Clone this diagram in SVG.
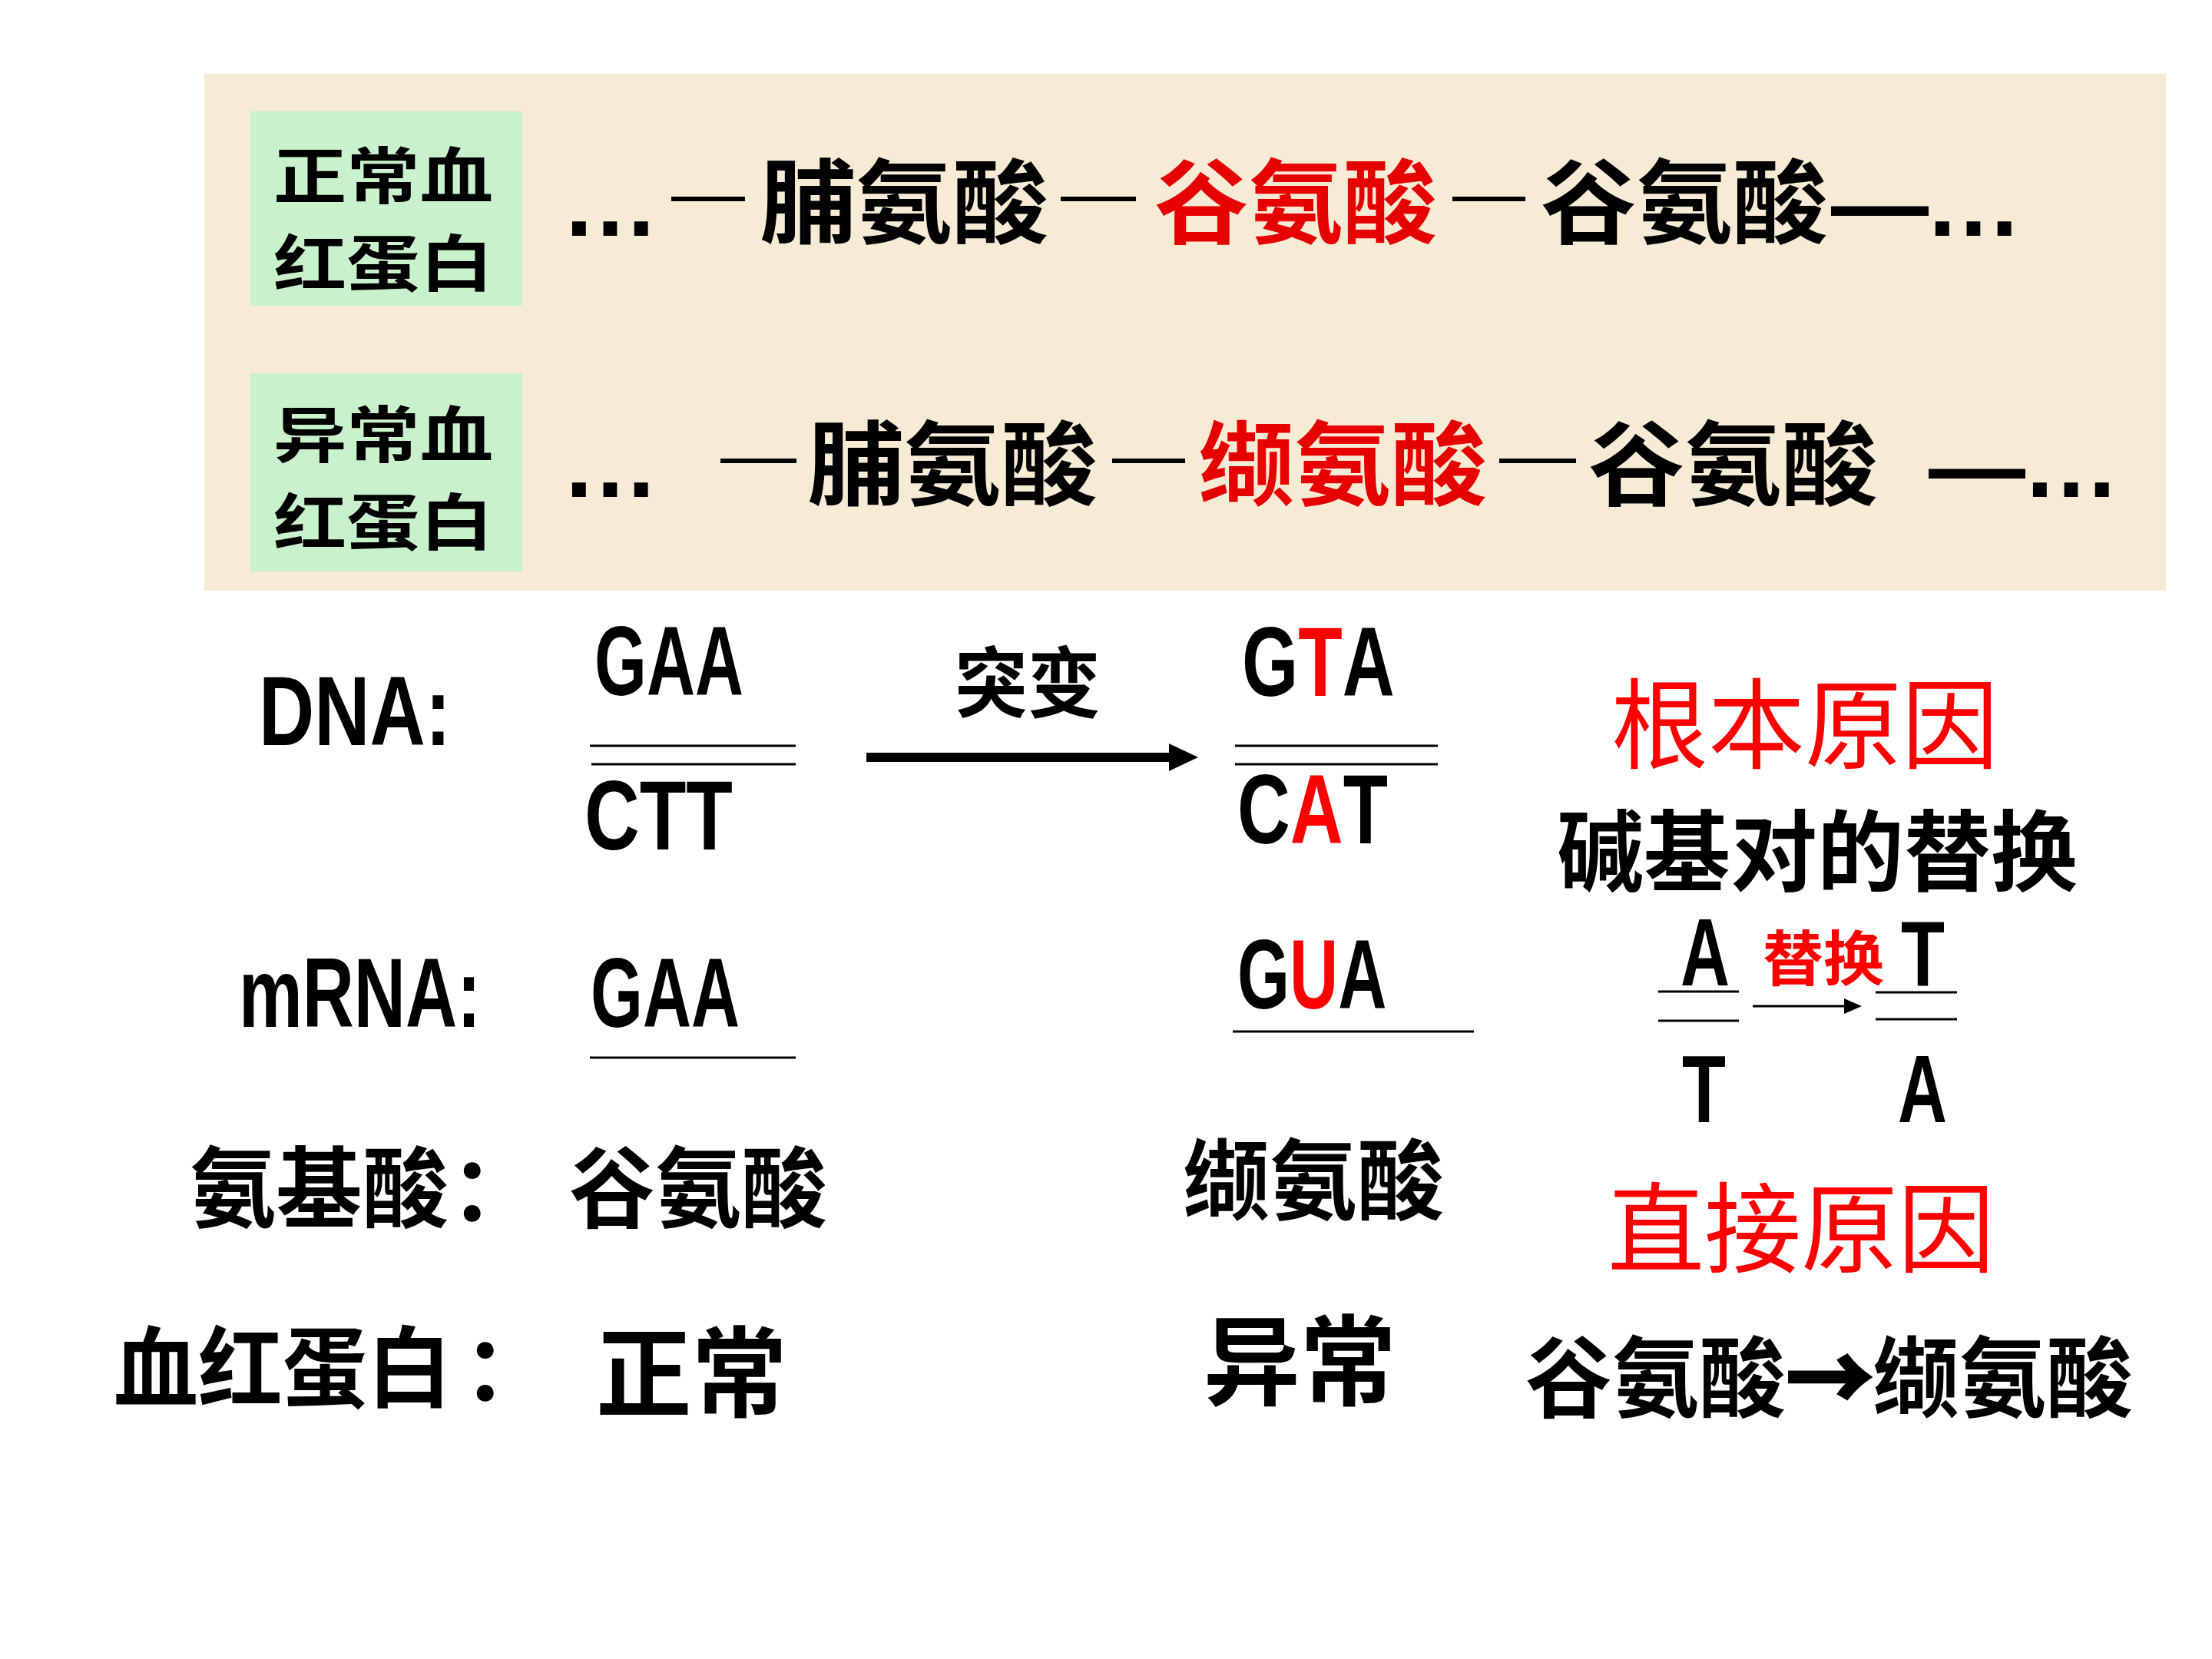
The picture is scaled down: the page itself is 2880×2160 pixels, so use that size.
<svg xmlns="http://www.w3.org/2000/svg" width="2880" height="2160" viewBox="0 0 2880 2160">
<defs>
<style>
.cjk{font-family:"Noto Sans CJK SC","Noto Sans CJK TC",sans-serif;font-weight:700;fill:#000}
.reg{font-weight:400}
.lat{font-family:"Liberation Sans",Arial,sans-serif;font-weight:700;fill:#000}
.latr{font-family:"Liberation Sans",Arial,sans-serif;font-weight:400;fill:#000}
.red{fill:#ff0000}
.pred{fill:#e60000}
.strand{stroke:#000;stroke-width:3;fill:none}
.heavy{stroke:#000;stroke-width:5}
</style>
</defs>
<rect x="0" y="0" width="2880" height="2160" fill="#ffffff"/>

<g id="panel">
<rect x="266" y="96" width="2554" height="673" fill="#f7ebd6"/>
</g>

<g id="label-normal">
<rect x="326" y="145" width="354" height="253" fill="#c9f1cb"/>
<text class="cjk" x="356" y="258" font-size="80" textLength="286" lengthAdjust="spacingAndGlyphs">正常血</text>
<text class="cjk" x="356" y="372" font-size="80" textLength="286" lengthAdjust="spacingAndGlyphs">红蛋白</text>
</g>

<g id="label-abnormal">
<rect x="326" y="486" width="354" height="258" fill="#c9f1cb"/>
<text class="cjk" x="356" y="595" font-size="80" textLength="286" lengthAdjust="spacingAndGlyphs">异常血</text>
<text class="cjk" x="356" y="709" font-size="80" textLength="286" lengthAdjust="spacingAndGlyphs">红蛋白</text>
</g>

<g id="chain-normal">
<text class="lat" x="731" y="307" font-size="127">…</text>
<text class="latr" x="874" y="282" font-size="90" textLength="96" lengthAdjust="spacingAndGlyphs">—</text>
<text class="cjk" x="989" y="308" font-size="120" textLength="376" lengthAdjust="spacingAndGlyphs">脯氨酸</text>
<text class="latr" x="1381" y="282" font-size="90" textLength="98" lengthAdjust="spacingAndGlyphs">—</text>
<text class="cjk pred" x="1503" y="308" font-size="120" textLength="368" lengthAdjust="spacingAndGlyphs">谷氨酸</text>
<text class="latr" x="1891" y="282" font-size="90" textLength="95" lengthAdjust="spacingAndGlyphs">—</text>
<text class="cjk" x="2006" y="308" font-size="120" textLength="374" lengthAdjust="spacingAndGlyphs">谷氨酸</text>
<text class="lat" x="2384" y="309" font-size="127" textLength="127" lengthAdjust="spacingAndGlyphs">—</text>
<text class="lat" x="2506" y="307" font-size="127">…</text>
</g>

<g id="chain-abnormal">
<text class="lat" x="731" y="647" font-size="127">…</text>
<text class="latr" x="938" y="623" font-size="90" textLength="99" lengthAdjust="spacingAndGlyphs">—</text>
<text class="cjk" x="1051" y="649" font-size="120" textLength="378" lengthAdjust="spacingAndGlyphs">脯氨酸</text>
<text class="latr" x="1448" y="623" font-size="90" textLength="95" lengthAdjust="spacingAndGlyphs">—</text>
<text class="cjk pred" x="1560" y="649" font-size="120" textLength="376" lengthAdjust="spacingAndGlyphs">缬氨酸</text>
<text class="latr" x="1952" y="623" font-size="90" textLength="100" lengthAdjust="spacingAndGlyphs">—</text>
<text class="cjk" x="2068" y="649" font-size="120" textLength="377" lengthAdjust="spacingAndGlyphs">谷氨酸</text>
<text class="lat" x="2511" y="651" font-size="127" textLength="126" lengthAdjust="spacingAndGlyphs">—</text>
<text class="lat" x="2633" y="647" font-size="127">…</text>
</g>

<g id="row-labels">
<text class="lat" x="337" y="970" font-size="128" textLength="250" lengthAdjust="spacingAndGlyphs">DNA:</text>
<text class="lat" x="311" y="1337" font-size="128" textLength="315" lengthAdjust="spacingAndGlyphs">mRNA:</text>
<text class="cjk" x="247" y="1589" font-size="115" textLength="337" lengthAdjust="spacingAndGlyphs">氨基酸</text>
<text class="cjk" x="586" y="1589" font-size="115">：</text>
<text class="cjk" x="148" y="1823" font-size="115" textLength="440" lengthAdjust="spacingAndGlyphs">血红蛋白</text>
<text class="cjk" x="603" y="1823" font-size="115">：</text>
</g>

<g id="normal-column">
<text class="lat" x="774" y="905" font-size="128" textLength="194" lengthAdjust="spacingAndGlyphs">GAA</text>
<line class="strand" x1="768" y1="971" x2="1036" y2="971"/>
<line class="strand" x1="770" y1="995" x2="1036" y2="995"/>
<text class="lat" x="761" y="1106" font-size="128" textLength="193" lengthAdjust="spacingAndGlyphs">CTT</text>
<text class="lat" x="769" y="1337" font-size="128" textLength="194" lengthAdjust="spacingAndGlyphs">GAA</text>
<line class="strand" x1="768" y1="1377" x2="1036" y2="1377"/>
<text class="cjk" x="741" y="1589" font-size="115" textLength="336" lengthAdjust="spacingAndGlyphs">谷氨酸</text>
<text class="cjk" x="776" y="1835" font-size="128" textLength="249" lengthAdjust="spacingAndGlyphs">正常</text>
</g>

<g id="mutation-label">
<text class="cjk" x="1243" y="926" font-size="100" textLength="190" lengthAdjust="spacingAndGlyphs">突变</text>
</g>

<g id="mutant-column">
<text class="lat" transform="translate(1617,906) scale(0.735,1)" x="0" y="0" font-size="128">G<tspan class="red">T</tspan>A</text>
<line class="strand" x1="1608" y1="971" x2="1872" y2="971"/>
<line class="strand" x1="1608" y1="995" x2="1872" y2="995"/>
<text class="lat" transform="translate(1611,1098) scale(0.745,1)" x="0" y="0" font-size="128">C<tspan class="red">A</tspan>T</text>
<text class="lat" transform="translate(1611,1313) scale(0.683,1)" x="0" y="0" font-size="128">G<tspan class="red">U</tspan>A</text>
<line class="strand" x1="1605" y1="1343" x2="1919" y2="1343"/>
<text class="cjk" x="1540" y="1579" font-size="115" textLength="340" lengthAdjust="spacingAndGlyphs">缬氨酸</text>
<text class="cjk" x="1567" y="1820" font-size="128" textLength="251" lengthAdjust="spacingAndGlyphs">异常</text>
</g>

<g id="root-cause">
<text class="cjk reg red" x="2098" y="991" font-size="128" textLength="504" lengthAdjust="spacingAndGlyphs">根本原因</text>
<text class="cjk" x="2027" y="1151" font-size="115" textLength="678" lengthAdjust="spacingAndGlyphs">碱基对的替换</text>
<text class="lat" x="2188" y="1283" font-size="124" textLength="64" lengthAdjust="spacingAndGlyphs">A</text>
<text class="cjk red" x="2295" y="1277" font-size="78" textLength="158" lengthAdjust="spacingAndGlyphs">替换</text>
<text class="lat" x="2475" y="1284" font-size="120" textLength="57" lengthAdjust="spacingAndGlyphs">T</text>
<line class="strand" x1="2159" y1="1291" x2="2264" y2="1291"/>
<line class="strand" x1="2159" y1="1329" x2="2264" y2="1329"/>
<line class="strand" x1="2442" y1="1292" x2="2548" y2="1292"/>
<line class="strand" x1="2442" y1="1327" x2="2548" y2="1327"/>
<text class="lat" x="2190" y="1461" font-size="125" textLength="57" lengthAdjust="spacingAndGlyphs">T</text>
<text class="lat" x="2471" y="1461" font-size="125" textLength="64" lengthAdjust="spacingAndGlyphs">A</text>
</g>

<g id="direct-cause">
<text class="cjk reg red" x="2093" y="1647" font-size="128" textLength="504" lengthAdjust="spacingAndGlyphs">直接原因</text>
<text class="cjk" x="1986" y="1836" font-size="115" textLength="339" lengthAdjust="spacingAndGlyphs">谷氨酸</text>
<text class="cjk heavy" x="2326" y="1836" font-size="115" textLength="112" lengthAdjust="spacingAndGlyphs">→</text>
<text class="cjk" x="2438" y="1836" font-size="115" textLength="339" lengthAdjust="spacingAndGlyphs">缬氨酸</text>
</g>

<g id="connectors">
<line x1="1128" y1="986" x2="1526" y2="986" stroke="#000" stroke-width="12"/>
<polygon points="1522,968 1560,986 1522,1004" fill="#000"/>
<line x1="2282" y1="1310" x2="2404" y2="1310" stroke="#000" stroke-width="3"/>
<polygon points="2401,1300 2424,1310 2401,1320" fill="#000"/>
</g>
</svg>
